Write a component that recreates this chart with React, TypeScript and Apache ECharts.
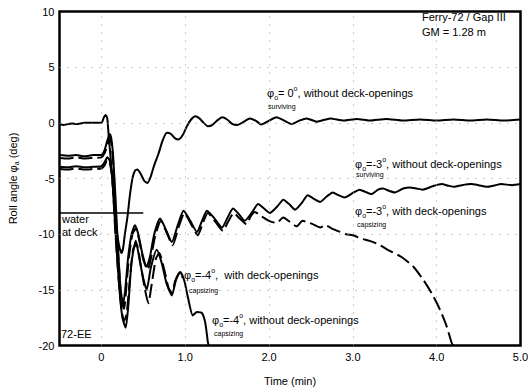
import React, { useEffect, useRef } from 'react';
import * as echarts from 'echarts';

const FONT = 'Liberation Sans, Arial, sans-serif';

// Time (min) ticks and grid positions
const xTickValues = [0, 1, 2, 3, 4, 5];
const gridTimes = [0, 1, 2, 3, 4];
const gridAngles = [5, 0, -5, -10, -15];

// water at deck level
const waterAtDeck: number[][] = [[-0.5, -8.1], [0.5, -8.1]];

// phi0 = 0 deg, without deck-openings (surviving)
const phi0Without: number[][] = [
  [-0.5, -0.1], [-0.45, -0.2], [-0.4, -0.1], [-0.35, -0.05], [-0.3, -0.1], [-0.2, 0], [-0.1, 0], [0, 0],
  [0.03, 0.5], [0.05, 0.7], [0.07, 0.4], [0.09, -1.5], [0.12, -4], [0.15, -7], [0.18, -9.5], [0.21, -11],
  [0.24, -11.7], [0.26, -11.2], [0.28, -10], [0.31, -8.5], [0.34, -6.5], [0.37, -5], [0.4, -4.3], [0.43, -4.2],
  [0.47, -4.6], [0.51, -5.2], [0.55, -5.4], [0.59, -4.8], [0.63, -3.8], [0.68, -2.8], [0.73, -1.6], [0.78, -0.9],
  [0.83, -1.0], [0.88, -1.4], [0.92, -1.5], [0.97, -1.1], [1.02, -0.3], [1.07, 0.3], [1.12, 0.6], [1.17, 0.4],
  [1.22, 0.0], [1.27, -0.3], [1.32, -0.2], [1.38, 0.2], [1.44, 0.5], [1.5, 0.3], [1.56, -0.1], [1.62, -0.2],
  [1.7, 0.1], [1.77, 0.4], [1.84, 0.2], [1.91, -0.15], [1.98, 0.1], [2.09, 0.5], [2.18, 0.2], [2.27, -0.1],
  [2.36, 0.2], [2.45, 0.4], [2.57, 0.1], [2.73, 0.4], [2.89, 0.2], [3.05, 0.35], [3.2, 0.2], [3.4, 0.35],
  [3.6, 0.2], [3.8, 0.3], [4.0, 0.2], [4.2, 0.3], [4.4, 0.2], [4.6, 0.3], [4.8, 0.2], [5.0, 0.3],
];

// phi0 = -3 deg, without deck-openings (surviving)
const phi3Without: number[][] = [
  [-0.5, -2.9], [-0.4, -2.95], [-0.3, -2.9], [-0.2, -3.0], [-0.1, -2.9], [0, -2.9], [0.04, -2.4], [0.07, -1.6],
  [0.1, -1.0], [0.12, -1.5], [0.14, -3], [0.17, -7], [0.2, -11.5], [0.23, -15], [0.26, -16.3], [0.29, -14.5],
  [0.32, -12], [0.36, -10], [0.4, -9.2], [0.44, -10], [0.49, -11.8], [0.54, -12.9], [0.58, -12], [0.63, -10],
  [0.7, -8.6], [0.77, -9.6], [0.84, -10.7], [0.91, -9.2], [0.98, -7.9], [1.06, -8.8], [1.14, -9.8], [1.2, -8.8],
  [1.26, -7.9], [1.35, -8.6], [1.44, -9.4], [1.5, -8.6], [1.57, -7.7], [1.64, -8.2], [1.71, -8.8], [1.8, -8.0],
  [1.87, -7.3], [1.94, -7.7], [2.01, -8.1], [2.1, -7.5], [2.17, -6.9], [2.24, -7.3], [2.31, -7.8], [2.4, -7.1],
  [2.46, -6.5], [2.53, -6.8], [2.61, -7.1], [2.69, -6.6], [2.76, -6.25], [2.83, -6.5], [2.9, -6.7], [3.0, -6.3],
  [3.08, -6.0], [3.15, -6.2], [3.22, -6.4], [3.3, -6.0], [3.36, -5.9], [3.43, -6.1], [3.5, -6.25], [3.6, -5.9],
  [3.68, -5.8], [3.76, -5.9], [3.83, -6.0], [3.95, -5.7], [4.06, -5.5], [4.14, -5.65], [4.21, -5.75], [4.3, -5.6],
  [4.41, -5.5], [4.5, -5.6], [4.6, -5.75], [4.7, -5.6], [4.77, -5.5], [4.9, -5.6], [5.0, -5.5],
];

// phi0 = -3 deg, with deck-openings (capsizing)
const phi3With: number[][] = [
  [-0.5, -3.15], [-0.4, -3.2], [-0.3, -3.1], [-0.2, -3.2], [-0.1, -3.15], [0, -3.1], [0.04, -2.7], [0.07, -2.0],
  [0.1, -1.4], [0.12, -1.9], [0.14, -3.5], [0.17, -8], [0.21, -13], [0.24, -16], [0.27, -16.7], [0.3, -14.5],
  [0.33, -12], [0.37, -10], [0.41, -9.5], [0.45, -10.5], [0.5, -12.3], [0.55, -13.2], [0.59, -12.2], [0.64, -10.2],
  [0.71, -8.8], [0.78, -9.9], [0.85, -11], [0.92, -9.4], [0.99, -8.1], [1.07, -9.1], [1.15, -10.1], [1.21, -9.0],
  [1.27, -8.1], [1.36, -8.9], [1.45, -9.7], [1.51, -8.9], [1.58, -8.1], [1.65, -8.6], [1.73, -9.1], [1.78, -8.4],
  [1.83, -8.0], [1.91, -8.4], [2.0, -8.8], [2.09, -9.0], [2.17, -8.5], [2.25, -8.9], [2.33, -9.3], [2.4, -8.8],
  [2.45, -8.9], [2.52, -9.1], [2.61, -9.4], [2.67, -9.2], [2.75, -9.5], [2.85, -9.8], [2.92, -10.0], [3.0, -10.1],
  [3.1, -10.4], [3.2, -10.6], [3.3, -10.9], [3.44, -11.5], [3.58, -12.05], [3.72, -12.9], [3.84, -14.1],
  [3.94, -15.3], [4.04, -16.8], [4.12, -18.3], [4.18, -19.8], [4.2, -20],
];

// phi0 = -4 deg, with deck-openings (capsizing)
const phi4With: number[][] = [
  [-0.5, -4.15], [-0.4, -4.2], [-0.3, -4.1], [-0.2, -4.2], [-0.1, -4.15], [0, -4.1], [0.04, -3.8], [0.07, -3.3],
  [0.1, -3.6], [0.13, -5], [0.16, -9], [0.2, -13.5], [0.24, -16.8], [0.27, -17.8], [0.3, -17.2], [0.34, -14],
  [0.38, -11.3], [0.42, -10.9], [0.47, -12.8], [0.52, -15], [0.56, -16.2], [0.6, -14.5], [0.65, -12.2],
  [0.69, -11.7], [0.75, -13.2], [0.8, -14.8], [0.84, -15.3], [0.88, -14.2], [0.93, -13.5], [0.97, -13.9],
];

// phi0 = -4 deg, without deck-openings (capsizing)
const phi4Without: number[][] = [
  [-0.5, -3.95], [-0.4, -4.0], [-0.3, -3.9], [-0.2, -4.0], [-0.1, -3.95], [0, -3.9], [0.04, -3.5], [0.07, -3.1],
  [0.1, -3.4], [0.13, -5], [0.17, -10], [0.21, -14.5], [0.25, -17.5], [0.29, -18.4], [0.32, -16.5], [0.36, -12.5],
  [0.41, -10.6], [0.46, -12.5], [0.5, -14], [0.54, -15.0], [0.59, -13], [0.66, -11.4], [0.72, -12.6],
  [0.78, -14.5], [0.84, -15.5], [0.89, -14.1], [0.94, -13.4], [0.99, -14.2], [1.03, -15.6], [1.09, -17.3],
  [1.14, -17.0], [1.2, -17.1], [1.24, -18], [1.27, -19.7], [1.28, -20],
];

const subSup = {
  s: { fontSize: 7, lineHeight: 7, verticalAlign: 'bottom', fontFamily: FONT, fill: '#000' },
  p: { fontSize: 7, lineHeight: 7, verticalAlign: 'top', fontFamily: FONT, fill: '#000' },
};

function label(text: string, x: number, y: number, size = 11, rich = false) {
  return {
    type: 'text',
    x,
    y,
    silent: true,
    z: 100,
    style: {
      text,
      fill: '#000',
      fontSize: size,
      fontFamily: FONT,
      lineHeight: rich ? 16 : size + 2,
      verticalAlign: 'middle',
      align: 'left',
      ...(rich ? { rich: subSup } : {}),
    },
  };
}

export default function App() {
  const ref = useRef<HTMLDivElement>(null);
  useEffect(() => {
    const chart = echarts.init(ref.current!, null, { renderer: 'svg' });
    const curve = (name: string, data: number[][], dashed: boolean) => ({
      name,
      type: 'line',
      data,
      symbol: 'none',
      smooth: 0.2,
      clip: true,
      lineStyle: { color: '#000', width: 2, type: dashed ? [14, 5] : 'solid' },
      z: 3,
    });
    chart.setOption({
      animation: false,
      backgroundColor: '#fff',
      grid: {
        left: 59.5,
        right: 8.5,
        top: 11.5,
        bottom: 41.5,
        show: true,
        borderColor: '#000',
        borderWidth: 2.5,
        backgroundColor: 'transparent',
        containLabel: false,
        outerBoundsMode: 'none',
      },
      xAxis: {
        type: 'value',
        min: -0.5,
        max: 5,
        interval: 0.5,
        axisLine: { show: false },
        axisTick: { show: false },
        splitLine: { show: false },
        axisLabel: {
          color: '#000',
          fontSize: 11,
          fontFamily: FONT,
          margin: 6,
          formatter: (v: number) => {
            const r = Math.round(v);
            if (Math.abs(v - r) > 1e-6 || !xTickValues.includes(r)) return '';
            return r === 0 ? '0' : r.toFixed(1);
          },
        },
        name: 'Time (min)',
        nameLocation: 'middle',
        nameGap: 30,
        nameTextStyle: { color: '#000', fontSize: 11, fontFamily: FONT },
      },
      yAxis: {
        type: 'value',
        min: -20,
        max: 10,
        interval: 5,
        axisLine: { show: false },
        axisTick: { show: false },
        splitLine: { show: false },
        axisLabel: { color: '#000', fontSize: 11, fontFamily: FONT, margin: 5 },
        name: 'Roll angle φ{a|a} (deg)',
        nameLocation: 'middle',
        nameGap: 40,
        nameTextStyle: {
          color: '#000',
          fontSize: 11,
          fontFamily: FONT,
          lineHeight: 14,
          rich: { a: { fontSize: 7, lineHeight: 7, verticalAlign: 'bottom', fontFamily: FONT, color: '#000' } },
        },
      },
      series: [
        {
          name: 'water at deck',
          type: 'line',
          data: waterAtDeck,
          symbol: 'none',
          lineStyle: { color: '#000', width: 1.5 },
          z: 2,
          markLine: {
            silent: true,
            symbol: ['none', 'none'],
            label: { show: false },
            lineStyle: { color: '#9a9a9a', width: 1, type: [1, 7] },
            data: [
              ...gridTimes.map((t) => ({ xAxis: t })),
              ...gridAngles.map((a) => ({ yAxis: a })),
            ],
          },
        },
        curve('phi0 = 0, without deck-openings', phi0Without, false),
        curve('phi0 = -3, without deck-openings', phi3Without, false),
        curve('phi0 = -3, with deck-openings', phi3With, true),
        curve('phi0 = -4, with deck-openings', phi4With, true),
        curve('phi0 = -4, without deck-openings', phi4Without, false),
      ],
      graphic: [
        label('Ferry-72 / Gap III', 422, 17),
        label('GM = 1.28 m', 422, 32),
        label('φ{s|o}= 0{p|o}, without deck-openings', 267, 92.5, 11, true),
        label('surviving', 268, 106, 7),
        label('φ{s|o}=-3{p|o}, without deck-openings', 355, 164, 11, true),
        label('surviving', 356, 174.5, 7),
        label('φ{s|o}=-3{p|o}, with deck-openings', 355, 210.5, 11, true),
        label('capsizing', 357, 224.5, 7),
        label('φ{s|o}=-4{p|o},  with deck-openings', 184, 275, 11, true),
        label('capsizing', 189, 290, 7),
        label('φ{s|o}=-4{p|o}, without deck-openings', 212, 319.5, 11, true),
        label('capsizing', 214, 333, 7),
        label('water', 62, 219),
        label('at deck', 62, 231.5),
        label('72-EE', 61, 334),
      ],
    });
    return () => chart.dispose();
  }, []);
  return <div ref={ref} style={{ position: 'absolute', left: 0, top: 0, width: 529, height: 387 }} />;
}
